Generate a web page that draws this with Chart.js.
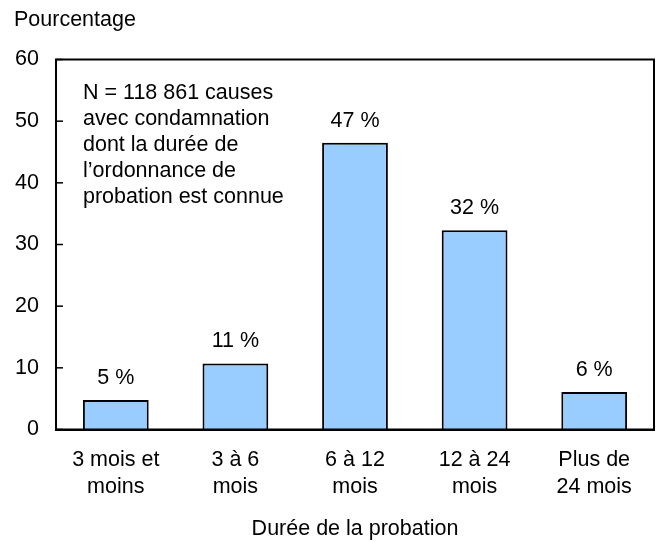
<!DOCTYPE html>
<html>
<head>
<meta charset="utf-8">
<script src="https://cdn.jsdelivr.net/npm/chart.js@4"></script>
<style>
  html, body { margin: 0; padding: 0; background: #fff; }
  #wrap { width: 658px; height: 542px; }
</style>
</head>
<body>
<div id="wrap"><canvas id="c" width="658" height="542"></canvas></div>
<script>
const categories = [
    ['3 mois et', 'moins'],
    ['3 à 6', 'mois'],
    ['6 à 12', 'mois'],
    ['12 à 24', 'mois'],
    ['Plus de', '24 mois']
];
const values = [4.8, 10.7, 46.5, 32.3, 6.1];
const valueLabels = ['5 %', '11 %', '47 %', '32 %', '6 %'];
const yTicks = [0, 10, 20, 30, 40, 50, 60];
const noteLines = [
    'N = 118 861 causes',
    'avec condamnation',
    'dont la durée de',
    'l\u2019ordonnance de',
    'probation est connue'
];
const yTitle = 'Pourcentage';
const xTitle = 'Durée de la probation';

const FONT = '"Liberation Sans", Arial, sans-serif';
const SIZE = 21.5;

const extras = {
    id: 'extras',
    afterDraw(chart) {
        const ctx = chart.ctx;
        const a = chart.chartArea;
        const y = chart.scales.y;
        ctx.save();
        // frame
        ctx.strokeStyle = '#000';
        ctx.lineWidth = 2;
        ctx.strokeRect(a.left, a.top, a.right - a.left, a.bottom - a.top);
        // inner ticks on the value axis
        ctx.lineWidth = 1.5;
        yTicks.forEach(v => {
            const py = y.getPixelForValue(v);
            ctx.beginPath();
            ctx.moveTo(a.left, py);
            ctx.lineTo(a.left + 7, py);
            ctx.stroke();
        });
        // texts
        ctx.fillStyle = '#000';
        ctx.font = SIZE + 'px ' + FONT;
        ctx.textAlign = 'left';
        ctx.textBaseline = 'middle';
        ctx.fillText(yTitle, 14, 20);
        noteLines.forEach((t, i) => ctx.fillText(t, 83, 93 + i * 26));
        // value labels
        ctx.textAlign = 'center';
        chart.getDatasetMeta(0).data.forEach((bar, i) => {
            ctx.fillText(valueLabels[i], bar.x, bar.y - 22);
        });
        ctx.restore();
    }
};

new Chart(document.getElementById('c'), {
    type: 'bar',
    data: {
        labels: categories,
        datasets: [{
            data: values,
            backgroundColor: '#99CCFF',
            borderColor: '#000',
            borderWidth: 2,
            categoryPercentage: 1,
            barPercentage: 0.55
        }]
    },
    options: {
        responsive: false,
        animation: false,
        events: [],
        layout: { padding: { top: 59.5, right: 4, left: 0, bottom: 0 } },
        plugins: { legend: { display: false }, tooltip: { enabled: false } },
        scales: {
            x: {
                grid: { display: false, drawTicks: false },
                border: { display: true, color: '#000', width: 2 },
                ticks: { color: '#000', font: { family: FONT, size: SIZE, lineHeight: 1.26 }, padding: 17, maxRotation: 0 },
                title: { display: true, text: xTitle, color: '#000', font: { family: FONT, size: SIZE }, padding: { top: 0, bottom: 0 } },
                afterFit(scale) { scale.height = 542 - 429.5; }
            },
            y: {
                min: 0, max: 60,
                grid: { display: false, drawTicks: false },
                border: { display: true, color: '#000', width: 2 },
                ticks: { stepSize: 10, color: '#000', font: { family: FONT, size: SIZE }, padding: 17 },
                afterFit(scale) { scale.width = 56; }
            }
        }
    },
    plugins: [extras]
});
</script>
</body>
</html>
